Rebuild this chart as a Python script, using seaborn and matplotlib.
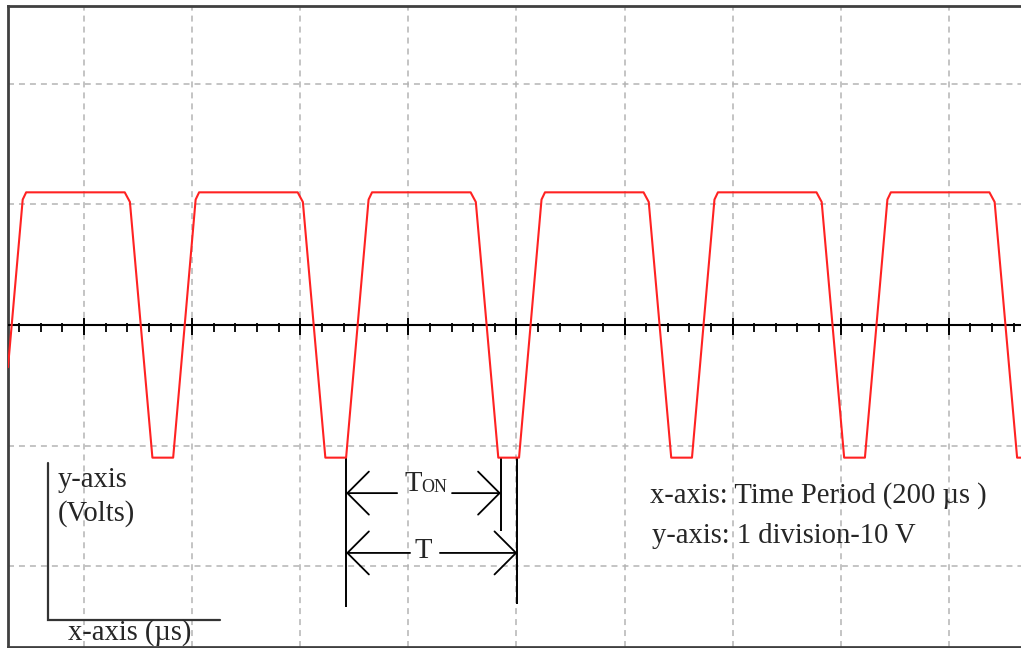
import numpy as np
import matplotlib
matplotlib.use("Agg")
import matplotlib.pyplot as plt
import seaborn as sns

# waveform breakpoints (time in us, voltage in V)
time_us = [-88, -71, -67, 47, 53, 79,
           103, 129, 133, 247, 253, 279,
           303, 329, 333, 447, 453, 479,
           503, 529, 533, 647, 653, 679,
           703, 729, 733, 847, 853, 879,
           903, 929, 933, 1047, 1053, 1079, 1084]
volts = [-3.5, 10.4, 11, 11, 10.2, -11,
         -11, 10.4, 11, 11, 10.2, -11,
         -11, 10.4, 11, 11, 10.2, -11,
         -11, 10.4, 11, 11, 10.2, -11,
         -11, 10.4, 11, 11, 10.2, -11,
         -11, 10.4, 11, 11, 10.2, -11, -11]

# period markers
t_start = 303
t_on_end = 482
t_end = 501

sns.set_style("white")
plt.rcParams['font.family'] = ['Liberation Serif', 'DejaVu Serif']
plt.rcParams['lines.scale_dashes'] = False

fig = plt.figure(figsize=(10.21, 6.48), dpi=100)
ax = fig.add_axes([8/1021, 1/648, 1013/1021, 641/648])

ax.set_xlim(-88, 1083.5)
ax.set_ylim(-26.7, 26.45)

# grid
ax.set_xticks(np.arange(0, 1001, 125))
ax.set_yticks([-20, -10, 0, 10, 20])
ax.tick_params(length=0, labelbottom=False, labelleft=False)
ax.grid(True, color='#b4b4b4', lw=1.1, linestyle=(0, (4.3, 3.6)))

for s in ['left', 'top', 'bottom']:
    ax.spines[s].set_color('#404040')
    ax.spines[s].set_linewidth(2.0)
ax.spines['right'].set_visible(False)

# centre axis with ticks
ax.axhline(0, color='black', lw=1.5, zorder=3)
minor = np.arange(-75, 1076, 25)
major = np.arange(0, 1001, 125)
ax.vlines(minor, -0.58, 0.17, color='black', lw=1.3, zorder=3)
ax.vlines(major, -0.83, 0.58, color='black', lw=1.4, zorder=3)

# waveform
sns.lineplot(x=time_us, y=volts, ax=ax, color='#ff2222', lw=1.5, zorder=4)

# T_ON and T markers
ax.vlines(t_start, -23.4, -11, color='black', lw=1.4)
ax.vlines(t_on_end, -17.1, -11, color='black', lw=1.4)
ax.vlines(t_end, -23.1, -11, color='black', lw=1.4)

arw = dict(arrowstyle='->,head_length=15.5,head_width=15.5', mutation_scale=1,
           lw=1.3, color='black', shrinkA=0, shrinkB=0)
ax.annotate('', xy=(t_start, -13.94), xytext=(362, -13.94), arrowprops=arw)
ax.annotate('', xy=(t_on_end, -13.94), xytext=(425.5, -13.94), arrowprops=arw)
ax.annotate('', xy=(t_start, -18.9), xytext=(377, -18.9), arrowprops=arw)
ax.annotate('', xy=(t_end, -18.9), xytext=(411.5, -18.9), arrowprops=arw)

fs = 20.6
ax.text(371, -13.75, 'T', fontsize=fs, va='baseline', ha='left')
ax.text(389.5, -13.85, 'ON', fontsize=13.0, va='baseline', ha='left')
ax.text(382.5, -19.3, 'T', fontsize=fs, va='baseline', ha='left')

# legend text
ax.text(654.5, -14.75, 'x-axis: Time Period (200 \u00b5s )', fontsize=fs, va='baseline')
ax.text(657, -18.1, 'y-axis: 1 division-10 V', fontsize=fs, va='baseline')

# small axes sketch at bottom left
ax.plot([-41.6, -41.6, 157], [-11.45, -24.5, -24.5], color='#333333', lw=1.6,
        solid_joinstyle='miter')
ax.text(-31, -13.45, 'y-axis', fontsize=fs, va='baseline')
ax.text(-31, -16.25, '(Volts)', fontsize=fs, va='baseline')
ax.text(-18.5, -26.1, 'x-axis (\u00b5s)', fontsize=fs, va='baseline')

fig.savefig('out.png', dpi=100)
